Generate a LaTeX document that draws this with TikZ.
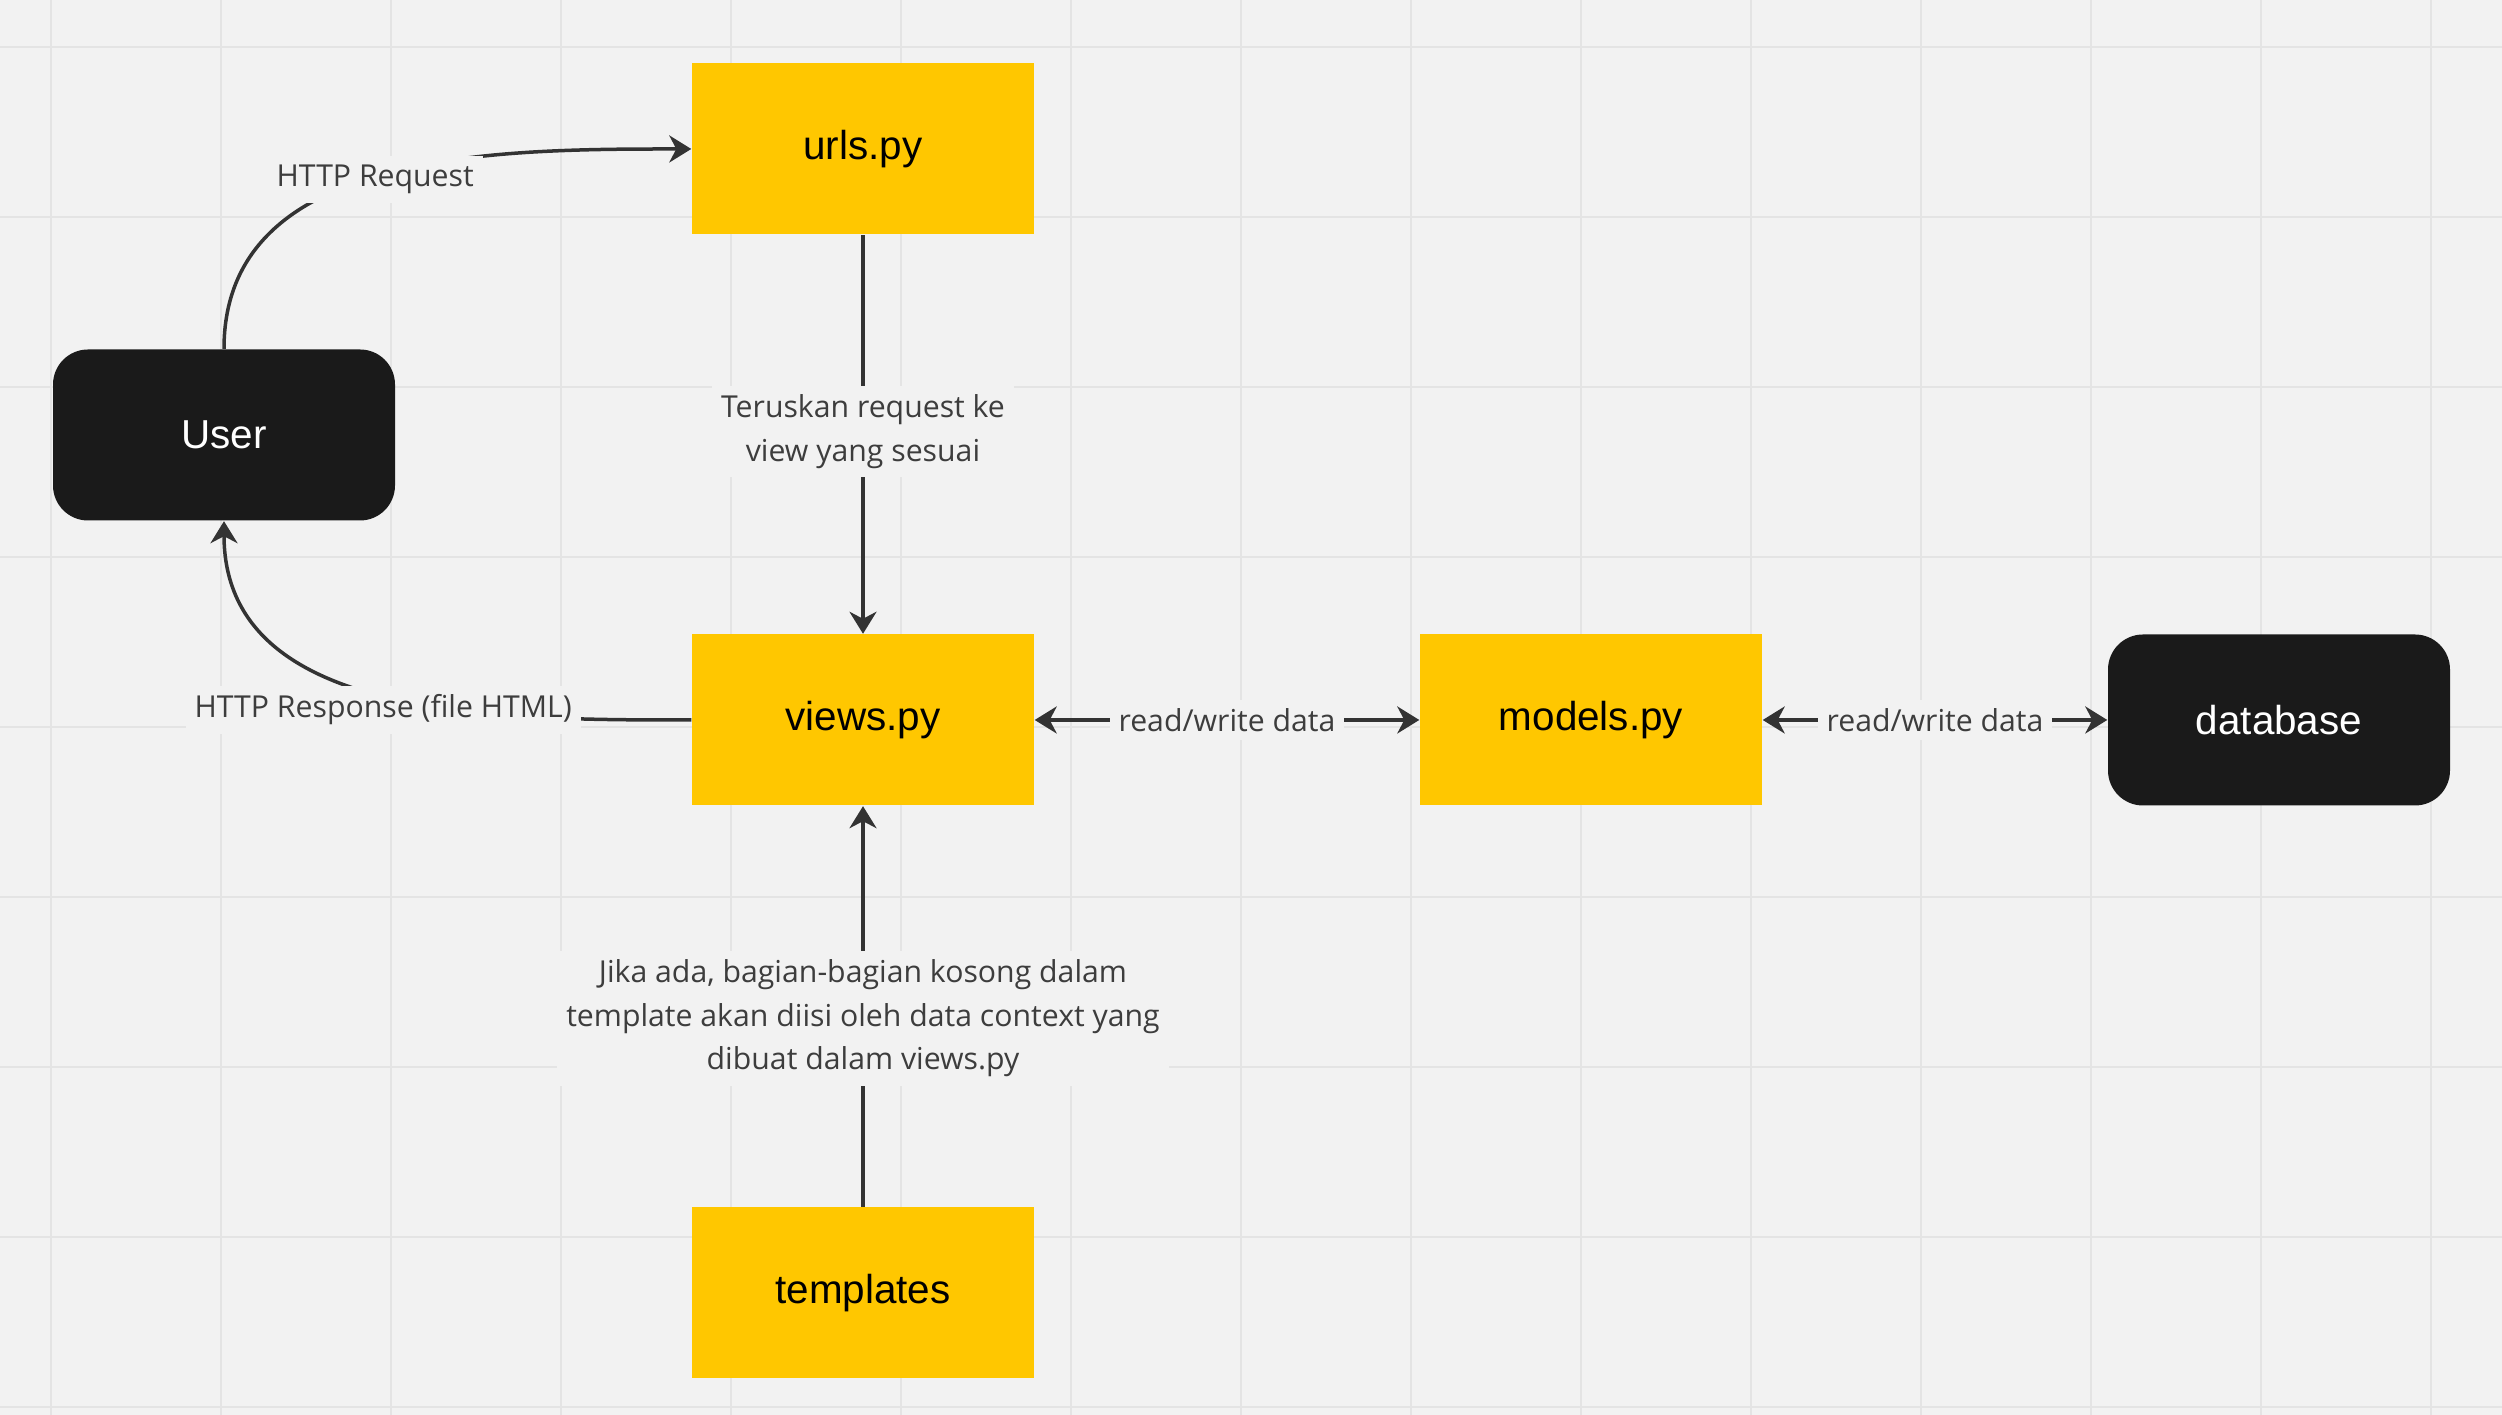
\documentclass[tikz,border=0pt]{standalone}
\usepackage{fontspec}
\setmainfont{Open Sans}
\newfontfamily\boxfont{Liberation Sans}
\usepackage{tikz}
\usetikzlibrary{arrows.meta,positioning}
\definecolor{bgGray}{HTML}{F2F2F2}
\definecolor{gridGray}{HTML}{E4E4E4}
\definecolor{boxYellow}{HTML}{FFC700}
\definecolor{boxBlack}{HTML}{1A1A1A}
\definecolor{lineGray}{HTML}{333333}
\definecolor{textGray}{HTML}{3D3D3D}
\tikzset{
    >={Stealth[length=0.22cm,width=0.27cm,inset=0.07cm]},
    gridline/.style={draw=gridGray,line width=0.025cm},
    filebox/.style={rectangle,fill=boxYellow,minimum width=3.42cm,minimum height=1.71cm,inner sep=0pt,
        font=\boxfont\fontsize{11.5}{13}\selectfont,text=black},
    actorbox/.style={rectangle,rounded corners=0.35cm,fill=boxBlack,minimum width=3.42cm,minimum height=1.71cm,inner sep=0pt,
        font=\boxfont\fontsize{11.5}{13}\selectfont,text=white},
    flow/.style={draw=lineGray,line width=0.035cm},
    flowlabel/.style={fill=bgGray,inner sep=2.5pt,align=center,text=textGray,
        font=\fontsize{8.6}{12.4}\selectfont}
}

\begin{document}
\begin{tikzpicture}
    \useasboundingbox[fill=bgGray] (0, 0) rectangle (25.02, 14.15);
    \foreach \gx in {0,...,14}
        \draw[gridline] ({0.51+1.70*\gx}, 0) -- ++(0, 14.15);
    \foreach \gy in {0,...,8}
        \draw[gridline] (0, {0.08+1.70*\gy}) -- ++(25.02, 0);

    \node[filebox] (urls) at (8.63, 12.66) {urls.py};
    \node[actorbox] (user) at (2.24, 9.80) {User};
    \node[filebox] (views) at (8.63, 6.95) {views.py};
    \node[filebox] (models) at (15.91, 6.95) {models.py};
    \node[actorbox] (database) at (22.79, 6.95) {database};
    \node[filebox] (templates) at (8.63, 1.22) {templates};

    \draw[flow,->] (user.north) to[out=90, in=180] node[flowlabel, xshift=-0.8mm, yshift=-0.5mm] {HTTP Request} (urls.west);
    \draw[flow,->] (views.west) to[out=180, in=270] node[flowlabel, yshift=-1.5mm] {HTTP Response (file HTML)} (user.south);
    \draw[flow,->] (urls.south) -- node[flowlabel, yshift=0.3mm] {Teruskan request ke\\view yang sesuai} (views.north);
    \draw[flow,<->] (views.east) -- node[flowlabel] {read/write data} (models.west);
    \draw[flow,<->] (models.east) -- node[flowlabel] {read/write data} (database.west);
    \draw[flow,->] (templates.north) -- node[flowlabel, yshift=-1.2mm] {Jika ada, bagian-bagian kosong dalam\\template akan diisi oleh data context yang\\dibuat dalam views.py} (views.south);
\end{tikzpicture}
\end{document}
